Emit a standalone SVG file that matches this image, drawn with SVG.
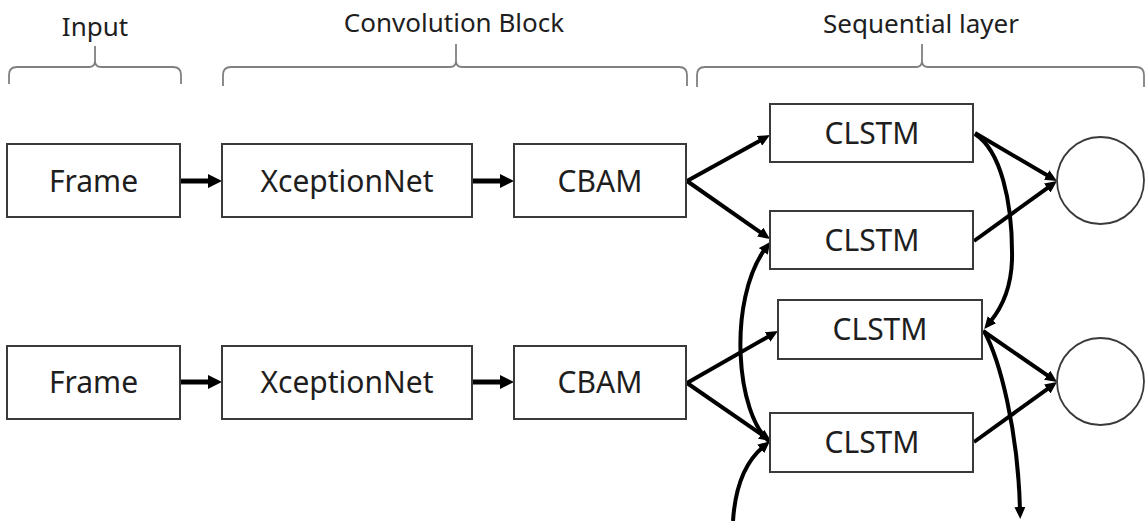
<svg xmlns="http://www.w3.org/2000/svg" width="1148" height="521" viewBox="0 0 1148 521">
  <defs>
    <style>
      .box { fill: #ffffff; stroke: #3a3a3a; stroke-width: 2; }
      .unit { fill: #ffffff; stroke: #3a3a3a; stroke-width: 1.8; }
      .lbl { font-family: "Noto Sans", "Open Sans", sans-serif; font-size: 30px; fill: #1e1e1e; text-anchor: middle; }
      .hdr { font-family: "Noto Sans", "Open Sans", sans-serif; font-size: 26px; fill: #1e1e1e; text-anchor: middle; }
      .brace { fill: none; stroke: #808080; stroke-width: 1.8; }
      .flow { fill: none; stroke: #000000; stroke-width: 5; marker-end: url(#headBig); }
      .link { fill: none; stroke: #000000; stroke-width: 4; marker-end: url(#head); }
    </style>
    <marker id="headBig" viewBox="0 0 14 14" refX="3" refY="7" markerWidth="14" markerHeight="14" markerUnits="userSpaceOnUse" orient="auto">
      <path d="M0,0 L14,7 L0,14 Z" fill="#000000"/>
    </marker>
    <marker id="head" viewBox="0 0 12 11" refX="3" refY="5.5" markerWidth="12" markerHeight="11" markerUnits="userSpaceOnUse" orient="auto">
      <path d="M0,0 L12,5.5 L0,11 Z" fill="#000000"/>
    </marker>
  </defs>
  <rect width="1148" height="521" fill="#ffffff"/>

  <!-- section headers with braces -->
  <g id="hdr-input">
    <text class="hdr" x="95" y="36">Input</text>
    <path class="brace" d="M95,46 L95,61 Q95,67 89,67 L17,67 Q9,67 9,75 L9,84 M95,46 L95,61 Q95,67 101,67 L173,67 Q181,67 181,75 L181,84"/>
  </g>
  <g id="hdr-conv">
    <text class="hdr" x="454" y="32">Convolution Block</text>
    <path class="brace" d="M456,44 L456,61 Q456,67 450,67 L231,67 Q223,67 223,75 L223,86 M456,44 L456,61 Q456,67 462,67 L679,67 Q687,67 687,75 L687,86"/>
  </g>
  <g id="hdr-seq">
    <text class="hdr" x="921" y="33">Sequential layer</text>
    <path class="brace" d="M922,44 L922,61 Q922,67 916,67 L705,67 Q697,67 697,75 L697,87 M922,44 L922,61 Q922,67 928,67 L1136,67 Q1144,67 1144,75 L1144,87"/>
  </g>

  <!-- connectors -->
  <g id="connectors">
    <!-- row 1 pipeline -->
    <line class="flow" x1="180" y1="181" x2="211" y2="181"/>
    <line class="flow" x1="472" y1="181" x2="503" y2="181"/>
    <!-- row 2 pipeline -->
    <line class="flow" x1="180" y1="382" x2="211" y2="382"/>
    <line class="flow" x1="472" y1="382" x2="503" y2="382"/>
    <!-- CBAM to CLSTM cells -->
    <line class="link" x1="687" y1="181" x2="762.1" y2="139.4"/>
    <line class="link" x1="687" y1="181" x2="762.6" y2="233.8"/>
    <line class="link" x1="687" y1="383" x2="770.2" y2="335.5"/>
    <line class="link" x1="687" y1="383" x2="763.6" y2="435.9"/>
    <!-- CLSTM cells to outputs -->
    <line class="link" x1="975" y1="133" x2="1049.2" y2="176.5"/>
    <line class="link" x1="974" y1="241" x2="1049.7" y2="186.3"/>
    <line class="link" x1="983" y1="331" x2="1049.6" y2="376.9"/>
    <line class="link" x1="974" y1="442" x2="1049.7" y2="387.3"/>
    <!-- forward recurrence -->
    <path class="link" d="M975,134 C1000,150 1013,200 1012,260 C1011,290 1000,310 990,322"/>
    <path class="link" d="M984,331 C1000,360 1018,430 1020,510"/>
    <!-- backward recurrence -->
    <path class="link" d="M771,443 C735,415 728,300 765,249"/>
    <path class="link" d="M733,521 C735,490 744,463 763,447"/>
  </g>

  <!-- row 1 nodes -->
  <g id="frame1"><rect class="box" x="7" y="144" width="173" height="73"/><text class="lbl" x="93.5" y="192">Frame</text></g>
  <g id="xception1"><rect class="box" x="222" y="144" width="250" height="73"/><text class="lbl" x="347" y="192">XceptionNet</text></g>
  <g id="cbam1"><rect class="box" x="514" y="144" width="172" height="73"/><text class="lbl" x="600" y="192">CBAM</text></g>
  <g id="clstm1"><rect class="box" x="770" y="104" width="203" height="58"/><text class="lbl" x="872" y="144">CLSTM</text></g>
  <g id="clstm2"><rect class="box" x="770" y="211" width="203" height="58"/><text class="lbl" x="872" y="251">CLSTM</text></g>
  <g id="out1"><circle class="unit" cx="1100.5" cy="180.5" r="43.5"/></g>

  <!-- row 2 nodes -->
  <g id="frame2"><rect class="box" x="7" y="346" width="173" height="73"/><text class="lbl" x="93.5" y="393">Frame</text></g>
  <g id="xception2"><rect class="box" x="222" y="346" width="250" height="73"/><text class="lbl" x="347" y="393">XceptionNet</text></g>
  <g id="cbam2"><rect class="box" x="514" y="346" width="172" height="73"/><text class="lbl" x="600" y="393">CBAM</text></g>
  <g id="clstm3"><rect class="box" x="778" y="300" width="204" height="59"/><text class="lbl" x="880" y="340">CLSTM</text></g>
  <g id="clstm4"><rect class="box" x="770" y="413" width="203" height="59"/><text class="lbl" x="872" y="453">CLSTM</text></g>
  <g id="out2"><circle class="unit" cx="1100.5" cy="381.5" r="43.5"/></g>
</svg>
